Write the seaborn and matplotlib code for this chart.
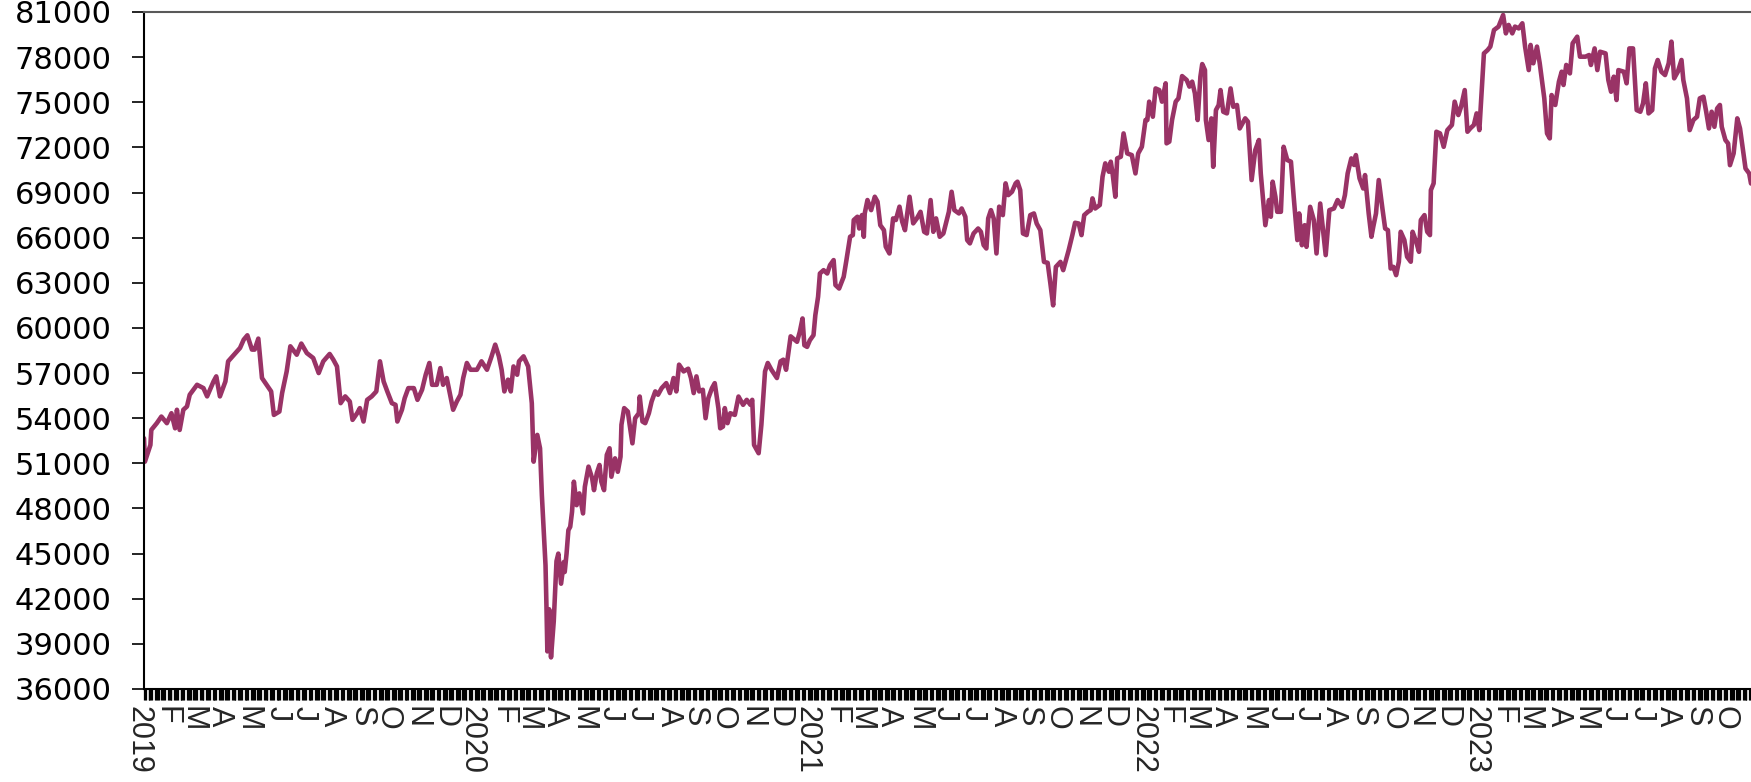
import numpy as np
import pandas as pd
import matplotlib
matplotlib.use("Agg")
import matplotlib.pyplot as plt
import matplotlib.dates as mdates
from matplotlib.transforms import ScaledTranslation
import seaborn as sns

# ---------------- data ----------------
START = "2019-01-02"   # first session on the chart; days below are offsets from it

days_2019 = [0, 1, 7, 8, 14, 19, 25, 30, 34, 36, 39, 43, 47, 50, 58, 65, 69, 76, 79, 83,
             89, 92, 100, 105, 109, 113, 118, 121, 125, 129, 134, 139, 142, 148, 151, 156, 160, 167, 172, 178,
             185, 191, 196, 203, 207, 211, 215, 220, 225, 228, 233, 236, 240, 244, 249, 254, 258, 262, 266, 271,
             275, 277, 282, 285, 289, 295, 299, 304, 308, 312, 315, 320, 324, 327, 331, 334, 338, 342, 346, 349,
             353, 357]
vals_2019 = [52670, 51110, 52220, 53220, 53670, 54110, 53670, 54330, 53330, 54560, 53220, 54560, 54780, 55560, 56220, 56000, 55450, 56440, 56780, 55450,
             56440, 57780, 58330, 58670, 59220, 59510, 58560, 58560, 59290, 56670, 56220, 55780, 54220, 54440, 55670, 57110, 58780, 58220, 58960, 58330,
             58000, 57000, 57780, 58270, 57890, 57440, 55000, 55450, 55110, 53890, 54330, 54670, 53780, 55220, 55450, 55780, 57780, 56440, 55780, 55000,
             54890, 53780, 54560, 55330, 56000, 56000, 55220, 55890, 56890, 57670, 56220, 56220, 57330, 56220, 56670, 55780, 54560, 55110, 55560, 56670,
             57670, 57220]

days_2020 = [364, 369, 375, 380, 384, 388, 391, 394, 398, 401, 404, 408, 410, 415, 420, 424, 426, 430, 433, 435,
             439, 440, 441, 443, 445, 448, 451, 453, 456, 459, 460, 462, 464, 466, 468, 470, 473, 476, 480, 482,
             486, 490, 492, 495, 498, 500, 503, 506, 509, 511, 515, 518, 521, 522, 525, 529, 531, 534, 537, 541,
             542, 545, 548, 552, 555, 559, 562, 566, 571, 575, 579, 582, 585, 590, 595, 598, 601, 604, 607, 611,
             614, 617, 621, 624, 628, 630, 633, 635, 638, 641, 646, 650, 655, 659, 663, 665, 667, 672, 675, 679,
             682, 686, 692, 696, 699, 702, 707, 714, 717, 720, 722, 725, 728]
vals_2020 = [57220, 57780, 57220, 58110, 58890, 58110, 57220, 55780, 56560, 55780, 57440, 56890, 57780, 58110, 57440, 55000, 51110, 52890, 52000, 48890,
             44220, 41560, 38500, 41300, 38100, 40500, 44500, 45000, 43000, 44440, 43780, 45000, 46560, 46780, 47780, 49780, 48220, 49000, 47670, 49440,
             50780, 50000, 49220, 50330, 50890, 49780, 49220, 51560, 52000, 50110, 51330, 50440, 51440, 53560, 54670, 54440, 53560, 52330, 54000, 54330,
             55440, 53780, 53670, 54330, 55110, 55780, 55560, 56000, 56330, 55670, 56670, 55780, 57560, 57110, 57290, 56670, 55670, 56780, 55780, 55890,
             54000, 55330, 56000, 56330, 54670, 53330, 53440, 54670, 53670, 54330, 54220, 55440, 54890, 55220, 54890, 55220, 52220, 51670, 53560, 57110,
             57670, 57220, 56670, 57780, 57890, 57220, 59440, 59080, 59740, 60630, 58850, 58740, 59180]

days_2021 = [732, 734, 737, 739, 743, 747, 750, 754, 756, 760, 765, 768, 772, 775, 776, 780, 782, 785, 787, 788,
             791, 795, 799, 802, 805, 809, 811, 815, 819, 822, 826, 829, 832, 837, 841, 845, 849, 853, 856, 860,
             863, 866, 870, 874, 880, 883, 886, 891, 894, 898, 900, 903, 907, 912, 915, 918, 921, 923, 926, 929,
             932, 935, 939, 942, 945, 949, 953, 955, 958, 961, 965, 969, 973, 976, 980, 984, 988, 991, 994, 997,
             1002, 1005, 1008, 1011, 1015, 1018, 1022, 1025, 1028, 1032, 1035, 1037, 1040, 1045, 1048, 1051, 1055, 1057, 1059, 1062,
             1064, 1068, 1071, 1075, 1080, 1084, 1087, 1091]
vals_2021 = [59520, 60850, 62070, 63620, 63840, 63620, 64170, 64510, 62850, 62620, 63400, 64510, 66060, 66170, 67170, 67390, 66610, 67500, 66060, 67610,
             68500, 67830, 68720, 68390, 66830, 66500, 65400, 64950, 67280, 67170, 68060, 67060, 66500, 68720, 66950, 67280, 67720, 66390, 66280, 68500,
             66390, 67280, 66060, 66280, 67720, 69050, 67830, 67610, 67940, 67390, 65840, 65620, 66280, 66610, 66390, 65510, 65280, 67280, 67830, 67280,
             64950, 68060, 67500, 69610, 68830, 69050, 69610, 69720, 69160, 66280, 66170, 67500, 67610, 66940, 66500, 64390, 64330, 62950, 61500, 64060,
             64390, 63840, 64510, 65170, 66170, 66990, 66940, 66170, 67500, 67720, 67830, 68610, 67940, 68170, 70050, 70940, 70380, 71050, 70270, 68720,
             71270, 71380, 72930, 71600, 71490, 70270, 71600, 72040]

days_2022 = [1095, 1097, 1099, 1103, 1106, 1110, 1113, 1117, 1118, 1121, 1124, 1128, 1131, 1135, 1140, 1143, 1146, 1149, 1152, 1155,
             1157, 1160, 1161, 1164, 1167, 1169, 1172, 1175, 1177, 1180, 1184, 1188, 1191, 1195, 1198, 1200, 1204, 1207, 1211, 1215,
             1219, 1221, 1226, 1230, 1232, 1234, 1237, 1239, 1243, 1246, 1250, 1254, 1257, 1261, 1263, 1266, 1269, 1271, 1275, 1279,
             1282, 1286, 1292, 1296, 1301, 1305, 1310, 1313, 1316, 1320, 1323, 1325, 1329, 1333, 1335, 1339, 1342, 1344, 1347, 1350,
             1354, 1357, 1360, 1363, 1366, 1369, 1372, 1374, 1378, 1381, 1385, 1387, 1391, 1394, 1396, 1400, 1403, 1406, 1407, 1410,
             1413, 1417, 1421, 1425, 1430, 1433, 1437, 1440, 1444, 1447, 1450, 1454, 1457]
vals_2022 = [73820, 73820, 75040, 74040, 75920, 75810, 75040, 76260, 72270, 72380, 73820, 75040, 75260, 76740, 76480, 76040, 76370, 75590, 73820, 76700,
             77540, 77140, 73820, 72490, 73930, 70710, 74480, 74820, 75810, 74370, 74260, 75920, 74700, 74820, 73260, 73480, 73930, 73710, 69830, 71820,
             72490, 70270, 66830, 68500, 67390, 69720, 68720, 67720, 67720, 72040, 71160, 71050, 68720, 65840, 67610, 65500, 66830, 65390, 68050, 67170,
             64950, 68270, 64840, 67830, 67940, 68500, 68050, 68830, 70270, 71270, 70830, 71490, 69940, 69270, 70160, 67610, 66060, 66720, 67610, 69830,
             67940, 66610, 66500, 63950, 64060, 63510, 64400, 66390, 65840, 64730, 64400, 66390, 65720, 65060, 67170, 67500, 66390, 66170, 69160, 69610,
             73040, 72930, 72040, 73150, 73490, 75040, 74150, 74700, 75810, 73040, 73260, 73490, 74260]

days_2023 = [1460, 1465, 1469, 1472, 1476, 1481, 1486, 1489, 1492, 1496, 1499, 1503, 1507, 1510, 1514, 1516, 1519, 1523, 1526, 1531,
             1534, 1537, 1539, 1543, 1547, 1550, 1552, 1555, 1559, 1562, 1567, 1570, 1576, 1580, 1582, 1586, 1589, 1592, 1598, 1601,
             1604, 1607, 1610, 1612, 1618, 1621, 1624, 1628, 1632, 1636, 1639, 1642, 1645, 1649, 1652, 1655, 1659, 1663, 1667, 1670,
             1673, 1677, 1681, 1683, 1687, 1690, 1694, 1698, 1701, 1705, 1708, 1711, 1714, 1717, 1720, 1723, 1725, 1729, 1732, 1734,
             1738, 1742, 1745, 1748, 1751, 1755, 1757]
vals_2023 = [73150, 78250, 78470, 78700, 79800, 80030, 80800, 79580, 80140, 79580, 80030, 79910, 80250, 78700, 77140, 78810, 77590, 78700, 77590, 75260,
             72930, 72600, 75480, 74820, 76370, 77030, 76150, 77480, 76920, 78920, 79360, 78030, 78030, 78140, 77480, 78580, 77140, 78360, 78250, 76480,
             75700, 76700, 75150, 77140, 77030, 76260, 78580, 78580, 74480, 74370, 74930, 76260, 74260, 74480, 77250, 77810, 77030, 76810, 77590, 79030,
             76590, 77030, 77810, 76480, 75260, 73150, 73820, 74040, 75260, 75370, 74370, 73260, 74370, 73370, 74590, 74820, 73370, 72490, 72260, 70820,
             71600, 73930, 73260, 71930, 70600, 70270, 69600]

y_ticks = list(range(36000, 81001, 3000))
month_letters = ["J", "F", "M", "A", "M", "J", "J", "A", "S", "O", "N", "D"]

# ---------------- build frame ----------------
days = days_2019 + days_2020 + days_2021 + days_2022 + days_2023
vals = vals_2019 + vals_2020 + vals_2021 + vals_2022 + vals_2023
dates = pd.Timestamp(START) + pd.to_timedelta(days, unit="D")
df = pd.DataFrame({"date": dates, "value": vals})

# ---------------- style ----------------
sns.set_style("white")
plt.rcParams["font.family"] = ["DejaVu Sans"]

W, H = 1751, 782
fig = plt.figure(figsize=(W / 100, H / 100), dpi=100)
ax = fig.add_axes([144 / W, 1 - 689 / H, 1 - 144 / W, (689 - 12) / H])

sns.lineplot(data=df, x="date", y="value", ax=ax, color="#993366",
             linewidth=3.3, estimator=None, sort=False)

ax.set_xlim(mdates.date2num(dates[0]), mdates.date2num(dates[-1]))
ax.set_ylim(y_ticks[0], y_ticks[-1])
ax.set_xlabel("")
ax.set_ylabel("")

# y axis
ax.set_yticks(y_ticks)
ax.set_yticklabels([str(v) for v in y_ticks])
ax.tick_params(axis="y", which="major", left=True, length=8.6, width=1.2,
               color="black", pad=14.6, labelsize=22, labelcolor="black", direction="out")

# x axis: one tick per session, labels at the first session of each month
sessions = pd.bdate_range(dates[0], dates[-1])
firsts = sessions[~sessions.to_period("M").duplicated()]
labels = [str(d.year) if d.month == 1 else month_letters[d.month - 1] for d in firsts]
ax.set_xticks(mdates.date2num(sessions), minor=True)
ax.set_xticks(mdates.date2num(firsts))
ax.set_xticklabels(labels, rotation=270, fontfamily="Liberation Sans", fontsize=22,
                   va="top", ha="center")
ax.tick_params(axis="x", which="both", bottom=True, length=8.0, width=0.9,
               color="black", pad=4.5, direction="out")
shift = ScaledTranslation(-5 / 100, 0, fig.dpi_scale_trans)
for lbl in ax.get_xticklabels():
    lbl.set_transform(lbl.get_transform() + shift)

# spines
ax.spines["right"].set_visible(False)
ax.spines["top"].set_color("#595959")
ax.spines["top"].set_linewidth(1.5)
for s in ("left", "bottom"):
    ax.spines[s].set_color("black")
    ax.spines[s].set_linewidth(1.5)
ax.grid(False)

fig.savefig("out.png", dpi=100)
